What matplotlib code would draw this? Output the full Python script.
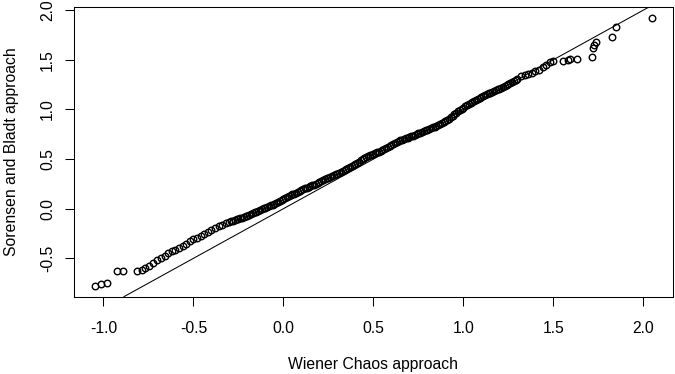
import matplotlib
matplotlib.use("Agg")
import matplotlib.pyplot as plt

plt.rcParams['font.family'] = ['Liberation Sans', 'DejaVu Sans']
plt.rcParams['axes.unicode_minus'] = False

wiener = [
    -1.047, -1.014, -0.980, -0.924, -0.890, -0.812, -0.788, -0.769, -0.745, -0.723,
    -0.70, -0.68, -0.66, -0.64, -0.62, -0.60, -0.58, -0.56, -0.54, -0.52,
    -0.50, -0.48, -0.46, -0.44, -0.42, -0.40, -0.38, -0.36, -0.34, -0.32,
    -0.30, -0.29, -0.28, -0.27, -0.26, -0.25, -0.24, -0.23, -0.22, -0.21,
    -0.20, -0.19, -0.18, -0.17, -0.16, -0.15, -0.14, -0.13, -0.12, -0.11,
    -0.10, -0.09, -0.08, -0.07, -0.06, -0.05, -0.04, -0.03, -0.02, -0.01,
    0.00, 0.01, 0.02, 0.03, 0.04, 0.05, 0.06, 0.07, 0.08, 0.09,
    0.10, 0.11, 0.12, 0.13, 0.14, 0.15, 0.16, 0.17, 0.18, 0.19,
    0.20, 0.21, 0.22, 0.23, 0.24, 0.25, 0.26, 0.27, 0.28, 0.29,
    0.30, 0.31, 0.32, 0.33, 0.34, 0.35, 0.36, 0.37, 0.38, 0.39,
    0.40, 0.41, 0.42, 0.43, 0.44, 0.45, 0.46, 0.47, 0.48, 0.49,
    0.50, 0.51, 0.52, 0.53, 0.54, 0.55, 0.56, 0.57, 0.58, 0.59,
    0.60, 0.61, 0.62, 0.63, 0.64, 0.65, 0.66, 0.67, 0.68, 0.69,
    0.70, 0.71, 0.72, 0.73, 0.74, 0.75, 0.76, 0.77, 0.78, 0.79,
    0.80, 0.81, 0.82, 0.83, 0.84, 0.85, 0.86, 0.87, 0.88, 0.89,
    0.90, 0.91, 0.92, 0.93, 0.94, 0.95, 0.96, 0.97, 0.98, 0.99,
    1.00, 1.01, 1.02, 1.03, 1.04, 1.05, 1.06, 1.07, 1.08, 1.09,
    1.10, 1.11, 1.12, 1.13, 1.14, 1.15, 1.16, 1.17, 1.18, 1.19,
    1.20, 1.21, 1.22, 1.23, 1.24, 1.25, 1.26, 1.27, 1.28, 1.29,
    1.30, 1.32, 1.34, 1.36, 1.38, 1.40, 1.42, 1.44, 1.46, 1.48,
    1.495, 1.554, 1.582, 1.592, 1.629, 1.712, 1.717, 1.725, 1.734, 1.823,
    1.847, 2.049,
]
sorensen = [
    -0.778, -0.758, -0.748, -0.630, -0.630, -0.630, -0.614, -0.600, -0.574, -0.544,
    -0.520, -0.500, -0.475, -0.450, -0.430, -0.415, -0.400, -0.375, -0.355, -0.330,
    -0.310, -0.290, -0.275, -0.250, -0.230, -0.215, -0.195, -0.175, -0.160, -0.145,
    -0.130, -0.125, -0.120, -0.114, -0.108, -0.102, -0.095, -0.089, -0.083, -0.077,
    -0.070, -0.062, -0.053, -0.045, -0.037, -0.029, -0.020, -0.012, -0.004, 0.003,
    0.011, 0.018, 0.026, 0.033, 0.040, 0.050, 0.059, 0.069, 0.079, 0.088,
    0.098, 0.107, 0.116, 0.125, 0.134, 0.144, 0.153, 0.162, 0.171, 0.180,
    0.188, 0.196, 0.204, 0.212, 0.220, 0.227, 0.235, 0.243, 0.252, 0.261,
    0.270, 0.279, 0.288, 0.297, 0.306, 0.314, 0.321, 0.329, 0.337, 0.345,
    0.353, 0.360, 0.370, 0.380, 0.390, 0.401, 0.411, 0.421, 0.432, 0.442,
    0.453, 0.464, 0.475, 0.486, 0.497, 0.508, 0.519, 0.530, 0.538, 0.545,
    0.552, 0.559, 0.566, 0.573, 0.580, 0.587, 0.598, 0.609, 0.620, 0.631,
    0.642, 0.653, 0.665, 0.676, 0.683, 0.689, 0.696, 0.702, 0.709, 0.715,
    0.722, 0.729, 0.736, 0.744, 0.751, 0.758, 0.765, 0.773, 0.780, 0.788,
    0.796, 0.804, 0.811, 0.819, 0.827, 0.835, 0.845, 0.855, 0.865, 0.875,
    0.885, 0.895, 0.905, 0.920, 0.935, 0.950, 0.964, 0.979, 0.994, 1.006,
    1.018, 1.030, 1.042, 1.054, 1.065, 1.074, 1.083, 1.092, 1.101, 1.110,
    1.120, 1.130, 1.140, 1.150, 1.160, 1.170, 1.178, 1.186, 1.193, 1.201,
    1.209, 1.218, 1.227, 1.236, 1.245, 1.254, 1.263, 1.272, 1.282, 1.294,
    1.308, 1.334, 1.350, 1.360, 1.368, 1.382, 1.400, 1.424, 1.450, 1.473,
    1.490, 1.492, 1.497, 1.503, 1.512, 1.531, 1.615, 1.649, 1.679, 1.726,
    1.827, 1.917,
]

xticks = [-1.0, -0.5, 0.0, 0.5, 1.0, 1.5, 2.0]
yticks = [-0.5, 0.0, 0.5, 1.0, 1.5, 2.0]

fig = plt.figure(figsize=(6.75, 3.74), dpi=100)
ax = fig.add_axes([0.1089, 0.2067, 0.8881, 0.7738])

ax.plot(wiener, sorensen, 'o', mfc='none', mec='black', ms=4.7, mew=1.0)
ax.axline((0, 0), slope=1, color='black', lw=0.75)

ax.set_xlim(-1.166, 2.164)
ax.set_ylim(-0.886, 2.028)

ax.set_xticks(xticks)
ax.set_xticklabels([f"{t:.1f}" for t in xticks])
ax.set_yticks(yticks)
ax.set_yticklabels([f"{t:.1f}" for t in yticks], rotation=90, va='center')

ax.tick_params(axis='both', length=6.8, width=0.75, labelsize=11.3, direction='out')
ax.tick_params(axis='x', pad=10.5)
ax.tick_params(axis='y', pad=6.5)
for s in ax.spines.values():
    s.set_linewidth(0.75)

ax.set_xlabel('Wiener Chaos approach', fontsize=11.3, va='center')
ax.xaxis.set_label_coords(0.5, (296.7 - 365) / 289.4)
ax.set_ylabel('Sorensen and Bladt approach', fontsize=11.3, va='center')
ax.yaxis.set_label_coords((11 - 73.5) / 599.5, 0.5)

fig.savefig('out.png', dpi=100)
